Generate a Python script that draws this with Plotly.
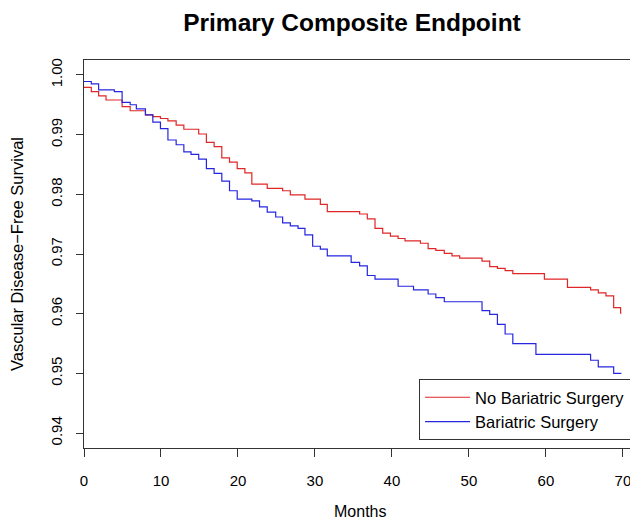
import plotly.graph_objects as go

# Kaplan-Meier step data (time in months, survival)
no_bs_time = [0, 0.95, 1.9, 2.86, 4.95, 6.0, 7.98, 8.94, 9.93, 10.9, 11.97, 12.97, 14.9, 15.9,
              16.9, 17.9, 18.9, 19.9, 20.9, 21.8, 23.8, 25.8, 26.8, 28.7, 30.7, 31.6, 35.8,
              36.8, 37.8, 38.8, 39.8, 40.8, 41.7, 43.7, 44.7, 45.7, 46.8, 47.8, 48.8, 51.7,
              52.7, 53.7, 54.7, 55.7, 59.8, 62.8, 65.8, 66.8, 67.8, 68.8, 69.7, 69.8]
no_bs_surv = [0.9979, 0.9972, 0.9965, 0.9958, 0.9947, 0.9940, 0.9933, 0.9930, 0.9927, 0.9923,
              0.9916, 0.9909, 0.9901, 0.9887, 0.9880, 0.9861, 0.9854, 0.9843, 0.9836, 0.9817,
              0.9810, 0.9806, 0.9799, 0.9792, 0.9783, 0.9771, 0.9767, 0.9759, 0.9743, 0.9735,
              0.9730, 0.9726, 0.9722, 0.9718, 0.9709, 0.9706, 0.9701, 0.9697, 0.9693, 0.9688,
              0.9679, 0.9676, 0.9672, 0.9667, 0.9658, 0.9644, 0.9640, 0.9635, 0.9630, 0.9610,
              0.9601, 0.9601]

bs_time = [0, 0.95, 1.9, 3.94, 4.95, 6.0, 6.8, 7.98, 8.94, 9.93, 10.9, 11.97, 12.97, 13.9,
           14.9, 15.9, 16.9, 17.9, 18.9, 19.9, 21.8, 22.8, 23.8, 24.9, 25.8, 26.8, 27.8, 28.7,
           29.7, 30.7, 31.6, 34.7, 35.8, 36.8, 37.8, 40.8, 42.8, 44.7, 45.7, 46.8, 51.7, 52.7,
           53.7, 54.7, 55.7, 58.7, 65.8, 66.8, 68.8, 69.8]
bs_surv = [0.9989, 0.9985, 0.9975, 0.9972, 0.9954, 0.9950, 0.9943, 0.9933, 0.9921, 0.9910,
           0.9891, 0.9883, 0.9871, 0.9867, 0.9859, 0.9843, 0.9835, 0.9822, 0.9806, 0.9792,
           0.9789, 0.9779, 0.9770, 0.9762, 0.9752, 0.9747, 0.9743, 0.9732, 0.9713, 0.9708,
           0.9697, 0.9686, 0.9680, 0.9664, 0.9658, 0.9646, 0.9640, 0.9633, 0.9627, 0.9620,
           0.9605, 0.9599, 0.9582, 0.9566, 0.9550, 0.9532, 0.9522, 0.9511, 0.9500, 0.9500]

x_ticks = [0, 10, 20, 30, 40, 50, 60, 70]
y_ticks = [0.94, 0.95, 0.96, 0.97, 0.98, 0.99, 1.00]
y_tick_labels = ["0.94", "0.95", "0.96", "0.97", "0.98", "0.99", "1.00"]

FONT = "Liberation Sans, Arial, Helvetica, sans-serif"

# page body has an 8px margin; figure sized so the visible 638x522 area matches
fig = go.Figure()
fig.add_trace(go.Scatter(x=no_bs_time, y=no_bs_surv, mode="lines", line_shape="hv",
                         line=dict(color="#e02626", width=1.2), name="No Bariatric Surgery"))
fig.add_trace(go.Scatter(x=bs_time, y=bs_surv, mode="lines", line_shape="hv",
                         line=dict(color="#2626e0", width=1.2), name="Bariatric Surgery"))

fig.update_layout(
    width=630, height=514,
    margin=dict(l=76, r=2, t=52, b=74),
    paper_bgcolor="white", plot_bgcolor="white",
    font=dict(family=FONT, size=15, color="black"),
    title=dict(text="<b>Primary Composite Endpoint</b>", x=0.546, xanchor="center",
               y=0.9728, yanchor="middle", font=dict(size=24.5, family=FONT)),
    showlegend=True,
    legend=dict(x=0.607, y=0.0206, xanchor="left", yanchor="bottom",
                bordercolor="#333333", borderwidth=1, bgcolor="white",
                font=dict(size=16.5, family=FONT), traceorder="normal",
                itemwidth=45, tracegroupgap=0),
    xaxis=dict(range=[0, 71.7], tickmode="array", tickvals=x_ticks, automargin=False,
               ticks="outside", ticklen=8, tickcolor="#333", showline=True,
               linecolor="#333", linewidth=1, mirror=True, showgrid=False, zeroline=False,
               ticklabelposition="outside", ticklabelstandoff=11,
               tickfont=dict(size=15)),
    yaxis=dict(range=[0.9375, 1.0025], tickmode="array", tickvals=y_ticks, automargin=False,
               ticktext=y_tick_labels, tickangle=-90,
               ticks="outside", ticklen=7, tickcolor="#333", showline=True,
               linecolor="#333", linewidth=1, mirror=True, showgrid=False, zeroline=False,
               ticklabelstandoff=8,
               title=dict(text="Vascular Disease\u2212Free Survival", standoff=20,
                          font=dict(size=16.5)),
               tickfont=dict(size=15)),
    annotations=[dict(text="Months", xref="paper", yref="paper", x=0.5, y=-0.163,
                      xanchor="center", yanchor="middle", showarrow=False,
                      font=dict(size=16, family=FONT))],
)

fig.write_html("out.html")
